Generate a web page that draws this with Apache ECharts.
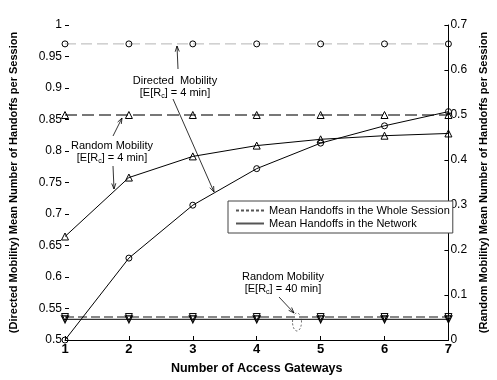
<!DOCTYPE html>
<html>
<head>
<meta charset="utf-8">
<script src="https://cdn.jsdelivr.net/npm/echarts@6/dist/echarts.min.js"></script>
<style>html,body{margin:0;padding:0;background:#fff}#c{width:497px;height:380px}</style>
</head>
<body>
<div id="c"></div>
<script>
// ---- data ----
const gateways = [1, 2, 3, 4, 5, 6, 7];
const leftTicks = ['0.5','0.55','0.6','0.65','0.7','0.75','0.8','0.85','0.9','0.95','1'];
const rightTicks = ['0','0.1','0.2','0.3','0.4','0.5','0.6','0.7'];
// Directed mobility, E[Rc] = 4 min (left axis)
const directedWhole4 = [0.97, 0.97, 0.97, 0.97, 0.97, 0.97, 0.97];
const directedNet4 = [0.5, 0.63, 0.714, 0.772, 0.8125, 0.84, 0.8625];
// Random mobility, E[Rc] = 4 min (right axis)
const randomWhole4 = [0.5, 0.5, 0.5, 0.5, 0.5, 0.5, 0.5];
const randomNet4 = [0.230, 0.361, 0.408, 0.432, 0.446, 0.454, 0.459];
// Random mobility, E[Rc] = 40 min (right axis)
const randomWhole40 = [0.051, 0.051, 0.051, 0.051, 0.051, 0.051, 0.051];
const randomNet40 = [0.046, 0.046, 0.046, 0.046, 0.046, 0.046, 0.046];
const legendNames = ['Mean Handoffs in the Whole Session', 'Mean Handoffs in the Network'];

const pairs = arr => gateways.map((g, i) => [g, arr[i]]);
const FONT = 'Liberation Sans, Arial, sans-serif';

const chart = echarts.init(document.getElementById('c'), null, {renderer: 'canvas'});

const openMarker = {color: 'rgba(0,0,0,0)', borderColor: '#000', borderWidth: 1};

function arrow(x1, y1, x2, y2) {
  const a = Math.atan2(y2 - y1, x2 - x1), L = 6, w = 0.35;
  return [
    {type: 'line', silent: true, shape: {x1, y1, x2, y2}, style: {stroke: '#000', lineWidth: 0.8}},
    {type: 'polyline', silent: true, shape: {points: [
      [x2 - L * Math.cos(a - w), y2 - L * Math.sin(a - w)], [x2, y2],
      [x2 - L * Math.cos(a + w), y2 - L * Math.sin(a + w)]]},
     style: {stroke: '#000', lineWidth: 0.8, fill: null}}
  ];
}
function label(cx, cy, lines) {
  return lines.map((t, i) => ({
    type: 'text', silent: true, x: cx, y: cy + i * 12,
    style: {text: t, fontSize: 11, fontFamily: FONT, fill: '#000', align: 'center', verticalAlign: 'middle',
      rich: {s: {fontSize: 7, fontFamily: FONT, padding: [6, 0, 0, 0]}}}
  }));
}

const graphics = [].concat(
  label(175, 81, ['Directed  Mobility', '[E[R{s|c}] = 4 min]']),
  arrow(178, 69, 177, 46),
  arrow(173, 99, 214, 192),
  label(112, 146, ['Random Mobility', '[E[R{s|c}] = 4 min]']),
  arrow(113, 136, 122, 118),
  arrow(113, 166, 114, 189),
  label(283, 277, ['Random Mobility', '[E[R{s|c}] = 40 min]']),
  arrow(279, 297, 294, 313),
  [{type: 'ellipse', silent: true, shape: {cx: 297, cy: 322, rx: 4.5, ry: 9},
    style: {stroke: '#333', lineWidth: 0.7, fill: null, lineDash: [2, 2]}}]
);

const hidden = {color: 'rgba(0,0,0,0)', borderColor: 'rgba(0,0,0,0)', borderWidth: 0, opacity: 0};

const option = {
  animation: false,
  backgroundColor: '#fff',
  textStyle: {fontFamily: FONT},
  grid: {left: 56, right: 35, top: 25, bottom: 35, containLabel: false},
  legend: {
    data: legendNames,
    orient: 'vertical', left: 228, top: 201,
    itemWidth: 28, itemHeight: 12, itemGap: 2,
    padding: [4, 3, 4, 7],
    borderColor: '#444', borderWidth: 1, backgroundColor: '#fff',
    itemStyle: {opacity: 0},
    textStyle: {fontSize: 11, fontFamily: FONT, color: '#000'}
  },
  xAxis: {
    type: 'value', min: 1, max: 7, interval: 1,
    name: 'Number of Access Gateways', nameLocation: 'middle', nameGap: 22,
    nameTextStyle: {fontSize: 12.5, fontWeight: 'bold', fontFamily: FONT, color: '#000'},
    axisLine: {show: true, lineStyle: {color: '#000', width: 1}},
    axisTick: {show: true, inside: true, length: 4, lineStyle: {color: '#000'}},
    axisLabel: {fontSize: 13, fontWeight: 'bold', fontFamily: FONT, color: '#000', margin: 3,
      formatter: v => String(gateways.find(g => g === v) ?? v)},
    splitLine: {show: false}
  },
  yAxis: [{
    type: 'value', min: 0.5, max: 1, interval: 0.05, position: 'left',
    name: '(Directed Mobility) Mean Number of Handoffs per Session', nameLocation: 'middle', nameGap: 46,
    nameTextStyle: {fontSize: 11, fontWeight: 'bold', fontFamily: FONT, color: '#000'},
    axisLine: {show: false},
    axisTick: {show: true, inside: true, length: 4, lineStyle: {color: '#000'}},
    axisLabel: {fontSize: 12, fontFamily: FONT, color: '#000', margin: 3,
      formatter: v => leftTicks[Math.round((v - 0.5) / 0.05)]},
    splitLine: {show: false}
  }, {
    type: 'value', min: 0, max: 0.7, interval: 0.1, position: 'right',
    name: '(Random Mobility) Mean Number of Handoffs per Session', nameLocation: 'middle', nameGap: 26,
    nameRotate: 90,
    nameTextStyle: {fontSize: 11, fontWeight: 'bold', fontFamily: FONT, color: '#000'},
    axisLine: {show: true, lineStyle: {color: '#000', width: 1}},
    axisTick: {show: true, inside: true, length: 4, lineStyle: {color: '#000'}},
    axisLabel: {fontSize: 12, fontFamily: FONT, color: '#000', margin: 2,
      formatter: v => rightTicks[Math.round(v / 0.1)]},
    splitLine: {show: false}
  }],
  series: [
    {name: 'dw4', type: 'line', yAxisIndex: 0, data: pairs(directedWhole4),
     symbol: 'circle', symbolSize: 6, itemStyle: openMarker,
     lineStyle: {color: '#b4b4b4', width: 1, type: [11, 5]}, z: 2},
    {name: 'dn4', type: 'line', yAxisIndex: 0, data: pairs(directedNet4),
     symbol: 'circle', symbolSize: 6, itemStyle: openMarker,
     lineStyle: {color: '#000', width: 1}, z: 3},
    {name: 'rw4', type: 'line', yAxisIndex: 1, data: pairs(randomWhole4),
     symbol: 'triangle', symbolSize: 7, itemStyle: openMarker,
     lineStyle: {color: '#777', width: 2, type: [12, 5]}, z: 2},
    {name: 'rn4', type: 'line', yAxisIndex: 1, data: pairs(randomNet4),
     symbol: 'triangle', symbolSize: 7, itemStyle: openMarker,
     lineStyle: {color: '#000', width: 1}, z: 3},
    {name: 'rw40', type: 'line', yAxisIndex: 1, data: pairs(randomWhole40),
     symbol: 'triangle', symbolRotate: 180, symbolSize: 7, itemStyle: openMarker,
     lineStyle: {color: '#888', width: 2, type: [9, 4]}, z: 2},
    {name: 'rn40', type: 'line', yAxisIndex: 1, data: pairs(randomNet40),
     symbol: 'triangle', symbolRotate: 180, symbolSize: 7, itemStyle: {color: 'rgba(0,0,0,0)', borderColor: '#000', borderWidth: 1.2},
     lineStyle: {color: '#000', width: 1}, z: 3},
    {name: legendNames[0], type: 'line', data: [], symbol: 'none',
     itemStyle: hidden, lineStyle: {color: '#555', width: 1, type: [3, 2]}},
    {name: legendNames[1], type: 'line', data: [], symbol: 'none',
     itemStyle: hidden, lineStyle: {color: '#555', width: 1.3}}
  ],
  graphic: graphics
};
chart.setOption(option);
</script>
</body>
</html>
